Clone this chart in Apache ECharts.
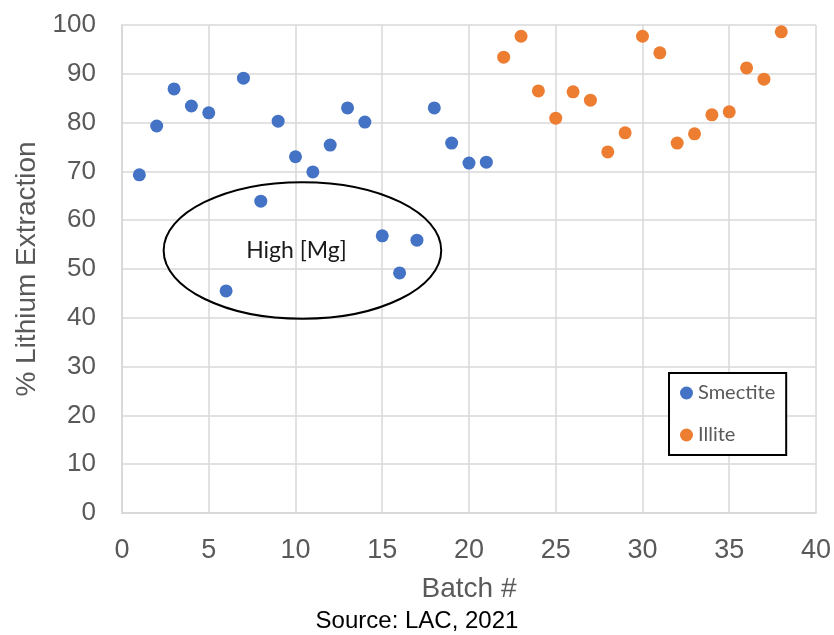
<!DOCTYPE html>
<html>
<head>
<meta charset="utf-8">
<script src="https://cdn.jsdelivr.net/npm/echarts@6/dist/echarts.min.js"></script>
<style>
  html, body { margin: 0; padding: 0; background: #fff; }
  #main { width: 834px; height: 635px; }
</style>
</head>
<body>
<div id="main"></div>
<script>
var smectiteBatch = [1, 2, 3, 4, 5, 6, 7, 8, 9, 10, 11, 12, 13, 14, 15, 16, 17, 18, 19, 20, 21];
var smectiteExtraction = [69.3, 79.3, 86.9, 83.4, 82.0, 45.5, 89.1, 63.9, 80.3, 73.0, 69.9,
  75.4, 83.0, 80.1, 56.8, 49.2, 55.9, 83.0, 75.8, 71.7, 71.9];
var illiteBatch = [22, 23, 24, 25, 26, 27, 28, 29, 30, 31, 32, 33, 34, 35, 36, 37, 38];
var illiteExtraction = [93.4, 97.7, 86.5, 80.9, 86.3, 84.6, 74.0, 77.9, 97.7, 94.3, 75.8,
  77.7, 81.6, 82.2, 91.2, 88.9, 98.6];

// ellipse annotation around the high-Mg batches, in data units
var highMgCenter = [10.4, 53.8];
var highMgRadius = [8.0, 14.0];

var chartDom = document.getElementById('main');
var myChart = echarts.init(chartDom);
var option;

function pairs(xs, ys) {
  return xs.map(function (x, i) { return [x, ys[i]]; });
}

var axisFont = 'Liberation Sans, Arial, sans-serif';

option = {
  animation: false,
  grid: { left: 122, right: 18, top: 25, bottom: 122 },
  xAxis: {
    type: 'value',
    min: 0,
    max: 40,
    interval: 5,
    name: 'Batch #',
    nameLocation: 'middle',
    nameGap: 62,
    nameTextStyle: { fontFamily: axisFont, fontSize: 28, color: '#595959' },
    axisLine: { show: true, onZero: false, lineStyle: { color: '#d9d9d9', width: 2 } },
    axisTick: { show: false },
    axisLabel: { fontFamily: axisFont, fontSize: 27, color: '#595959', margin: 24 },
    splitLine: { show: true, lineStyle: { color: '#d9d9d9', width: 1.5 } }
  },
  yAxis: {
    type: 'value',
    min: 0,
    max: 100,
    interval: 10,
    name: '% Lithium Extraction',
    nameLocation: 'middle',
    nameGap: 81,
    nameTextStyle: { fontFamily: axisFont, fontSize: 28, color: '#595959' },
    axisLine: { show: true, lineStyle: { color: '#d9d9d9', width: 2 } },
    axisTick: { show: false },
    axisLabel: { fontFamily: axisFont, fontSize: 26, color: '#595959', margin: 26 },
    splitLine: { show: true, lineStyle: { color: '#d9d9d9', width: 1.5 } }
  },
  legend: {
    orient: 'vertical',
    left: 669,
    top: 373,
    padding: [10, 11, 10, 11],
    itemGap: 22,
    itemWidth: 13,
    itemHeight: 13,
    borderColor: '#000',
    borderWidth: 2,
    backgroundColor: '#fff',
    textStyle: { fontFamily: 'Lato, sans-serif', fontSize: 20, color: '#595959' },
    data: [
      { name: 'Smectite', icon: 'circle' },
      { name: 'Illite', icon: 'circle' }
    ]
  },
  series: [
    {
      name: 'Smectite',
      type: 'scatter',
      symbolSize: 13,
      itemStyle: { color: '#4472C4', opacity: 1 },
      data: pairs(smectiteBatch, smectiteExtraction)
    },
    {
      name: 'Illite',
      type: 'scatter',
      symbolSize: 13,
      itemStyle: { color: '#ED7D31', opacity: 1 },
      data: pairs(illiteBatch, illiteExtraction)
    }
  ]
};

option && myChart.setOption(option);

// annotation placed through the chart's own scales
var c = myChart.convertToPixel({ gridIndex: 0 }, highMgCenter);
var edge = myChart.convertToPixel({ gridIndex: 0 },
  [highMgCenter[0] + highMgRadius[0], highMgCenter[1] + highMgRadius[1]]);
myChart.setOption({
  graphic: [
    {
      type: 'ellipse',
      shape: { cx: c[0], cy: c[1], rx: Math.abs(edge[0] - c[0]), ry: Math.abs(c[1] - edge[1]) },
      style: { fill: null, stroke: '#000', lineWidth: 2 },
      z: 10
    },
    {
      type: 'text',
      x: c[0] - 6,
      y: c[1],
      style: {
        text: 'High [Mg]',
        font: '23px Lato, sans-serif',
        fill: '#1a1a1a',
        textAlign: 'center',
        textVerticalAlign: 'middle'
      },
      z: 10
    },
    {
      type: 'text',
      left: 'center',
      top: 609,
      style: {
        text: 'Source: LAC, 2021',
        font: '24px Liberation Sans, Arial, sans-serif',
        fill: '#000'
      }
    }
  ]
});
</script>
</body>
</html>
